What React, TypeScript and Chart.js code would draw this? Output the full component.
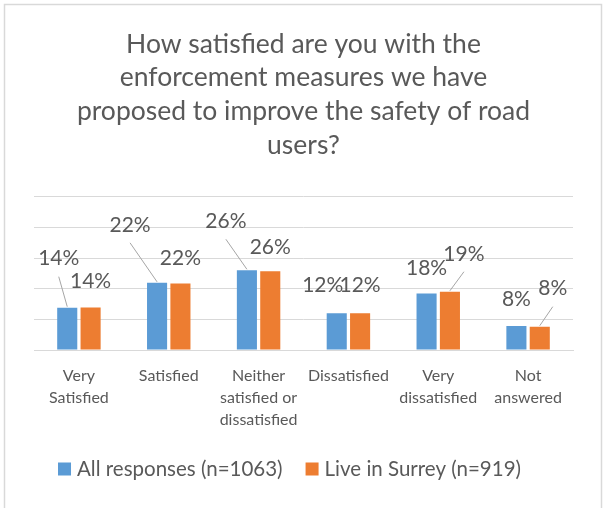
import React, { useEffect, useRef } from "react";
import { Chart, registerables } from "chart.js";

Chart.register(...registerables);

const titleLines = [
  "How satisfied are you with the",
  "enforcement measures we have",
  "proposed to improve the safety of road",
  "users?",
];
const categories = [
  ["Very", "Satisfied"],
  ["Satisfied"],
  ["Neither", "satisfied or", "dissatisfied"],
  ["Dissatisfied"],
  ["Very", "dissatisfied"],
  ["Not", "answered"],
];
const allResponses = [13.8, 21.9, 26.0, 12.0, 18.4, 7.8];
const liveInSurrey = [13.9, 21.7, 25.7, 12.0, 19.0, 7.6];
const seriesNames = ["All responses (n=1063)", "Live in Surrey (n=919)"];
const yTicks = { min: 0, max: 50, step: 10 };

// label placement (dx, dy from bar top; leader line flag)
const labelPlacement = [
  [[-8.5, -49, 1], [-27, -58, 1], [-21, -49, 1], [-14, -28, 0], [0, -25, 0], [0, -27, 0]],
  [[0, -26, 0], [0, -25, 0], [0, -24, 0], [0, -28, 0], [14, -38, 1], [13, -38, 1]],
];

const FONT = "Lato, 'Open Sans', sans-serif";
const TEXT = "#595959";

const borderPlugin = {
  id: "outerBorder",
  beforeDraw(chart: any) {
    const ctx = chart.ctx;
    ctx.save();
    ctx.fillStyle = "#ffffff";
    ctx.fillRect(0, 0, chart.width, chart.height);
    ctx.strokeStyle = "#d9d9d9";
    ctx.lineWidth = 1.5;
    ctx.beginPath();
    ctx.moveTo(4.5, chart.height + 5);
    ctx.lineTo(4.5, 4.5);
    ctx.lineTo(601.5, 4.5);
    ctx.lineTo(601.5, chart.height + 5);
    ctx.stroke();
    ctx.restore();
  },
};

const labelPlugin = {
  id: "barLabels",
  afterDatasetsDraw(chart: any) {
    const ctx = chart.ctx;
    ctx.save();
    chart.data.datasets.forEach((ds: any, di: number) => {
      const meta = chart.getDatasetMeta(di);
      meta.data.forEach((el: any, i: number) => {
        const [dx, dy, leader] = labelPlacement[di][i];
        const lx = el.x + dx;
        const ly = el.y + dy;
        if (leader) {
          ctx.strokeStyle = "#a6a6a6";
          ctx.lineWidth = 1;
          ctx.beginPath();
          ctx.moveTo(el.x, el.y - 1);
          ctx.lineTo(lx, ly + 18);
          ctx.stroke();
        }
        ctx.fillStyle = TEXT;
        ctx.font = `21px ${FONT}`;
        ctx.textAlign = "center";
        ctx.textBaseline = "middle";
        ctx.fillText(Math.round(ds.data[i]) + "%", lx, ly);
      });
    });
    ctx.restore();
  },
};

const legendPlugin = {
  id: "bottomLegend",
  afterDraw(chart: any) {
    const ctx = chart.ctx;
    ctx.save();
    ctx.font = `20.5px ${FONT}`;
    ctx.textBaseline = "middle";
    ctx.textAlign = "left";
    const box = 13, gapText = 6, gapItem = 23;
    const items = chart.data.datasets.map((ds: any) => ({
      label: ds.label,
      color: ds.backgroundColor,
      w: ctx.measureText(ds.label).width,
    }));
    const total = items.reduce((s: number, it: any) => s + box + gapText + it.w, 0) + gapItem * (items.length - 1);
    const cx = (chart.chartArea.left + chart.chartArea.right) / 2 - 14;
    const cy = 469;
    let x = cx - total / 2;
    items.forEach((it: any) => {
      ctx.fillStyle = it.color;
      ctx.fillRect(x, cy - 6.5, box, box);
      x += box + gapText;
      ctx.fillStyle = TEXT;
      ctx.fillText(it.label, x, cy);
      x += it.w + gapItem;
    });
    ctx.restore();
  },
};

export default function App() {
  const ref = useRef<HTMLCanvasElement>(null);
  useEffect(() => {
    document.body.style.margin = "0";
    const chart = new Chart(ref.current!, {
      type: "bar",
      data: {
        labels: categories,
        datasets: [
          {
            label: seriesNames[0],
            data: allResponses,
            backgroundColor: "#5B9BD5",
            categoryPercentage: 0.52,
            barPercentage: 0.86,
          },
          {
            label: seriesNames[1],
            data: liveInSurrey,
            backgroundColor: "#ED7D31",
            categoryPercentage: 0.52,
            barPercentage: 0.86,
          },
        ],
      },
      options: {
        responsive: false,
        animation: false,
        devicePixelRatio: 1,
        layout: { padding: { left: 34, right: 31, top: 0, bottom: 62 } },
        plugins: {
          tooltip: { enabled: false },
          legend: { display: false },
          title: {
            display: true,
            text: titleLines,
            color: TEXT,
            font: { family: FONT, size: 26.5, weight: "normal", lineHeight: 1.28 },
            padding: { top: 27, bottom: 34 },
          },
        },
        scales: {
          x: {
            grid: { display: false },
            border: { display: true, color: "#d9d9d9" },
            ticks: {
              color: TEXT,
              font: { family: FONT, size: 16, lineHeight: 1.38 },
              maxRotation: 0,
              autoSkip: false,
              padding: 7,
            },
            afterFit: (s: any) => {
              s.height = 96;
            },
          },
          y: {
            min: yTicks.min,
            max: yTicks.max,
            ticks: { display: false, stepSize: yTicks.step },
            grid: { color: "#d9d9d9", drawTicks: false },
            border: { display: false },
            afterFit: (s: any) => {
              s.width = 0;
            },
          },
        },
      },
      plugins: [borderPlugin, labelPlugin, legendPlugin],
    });
    return () => chart.destroy();
  }, []);
  return (
    <div style={{ width: 604, height: 508 }}>
      <canvas ref={ref} width={604} height={508} />
    </div>
  );
}
